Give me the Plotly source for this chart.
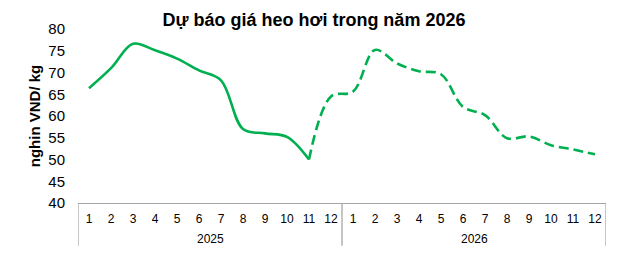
import plotly.graph_objects as go

years = ["2025", "2026"]
months = [str(m) for m in range(1, 13)]
month_labels = months * 2
idx = list(range(len(month_labels)))

actual = [66.4, 71.0, 76.6, 75.1, 73.2, 70.5, 68.2, 57.0, 56.0, 55.2, 50.0]
forecast = [50.0, 64.5, 65.6, 75.2, 72.1, 70.3, 69.6, 62.1, 60.2, 54.9, 55.3, 53.3, 52.3, 51.2]

green = "#00B050"
grey = "#A6A6A6"

fig = go.Figure()
fig.add_trace(go.Scatter(
    x=idx[:len(actual)], y=actual, mode="lines",
    line=dict(color=green, width=2.6, shape="spline", smoothing=1.0),
    showlegend=False))
fig.add_trace(go.Scatter(
    x=idx[len(actual) - 1:], y=forecast, mode="lines",
    line=dict(color=green, width=2.6, shape="spline", smoothing=1.0, dash="10px,5px"),
    showlegend=False))

n = len(months)
# year group labels and dividers
for k, yr in enumerate(years):
    fig.add_annotation(x=k * n + (n - 1) / 2, y=-0.205, xref="x", yref="paper",
                       text=yr, showarrow=False, font=dict(size=12),
                       xanchor="center", yanchor="middle")
for k in range(len(years) + 1):
    fig.add_shape(type="line", xref="x", yref="paper",
                  x0=k * n - 0.5, x1=k * n - 0.5, y0=0, y1=-0.245,
                  line=dict(color=grey, width=1.3))

fig.update_layout(
    width=628, height=260,
    margin=dict(l=78, r=22, t=29, b=57),
    plot_bgcolor="white", paper_bgcolor="white",
    font=dict(family="Liberation Sans, Arial, sans-serif", color="black"),
    title=dict(text="<b>Dự báo giá heo hơi trong năm 2026</b>", x=0.5, xanchor="center",
               y=0.925, yanchor="middle", font=dict(size=18, color="black")),
    xaxis=dict(range=[-0.5, len(idx) - 0.5], tickvals=idx, ticktext=month_labels,
               showline=True, linecolor=grey, linewidth=1.3, showgrid=False, zeroline=False,
               tickfont=dict(size=12), ticks="", ticklabelstandoff=4),
    yaxis=dict(range=[40, 80], dtick=5, showgrid=False, zeroline=False, showline=False,
               tickfont=dict(size=15), ticklabelstandoff=12,
               title=dict(text="<b>nghin VND/ kg</b>", font=dict(size=15), standoff=4)),
)

fig.write_html("out.html")
